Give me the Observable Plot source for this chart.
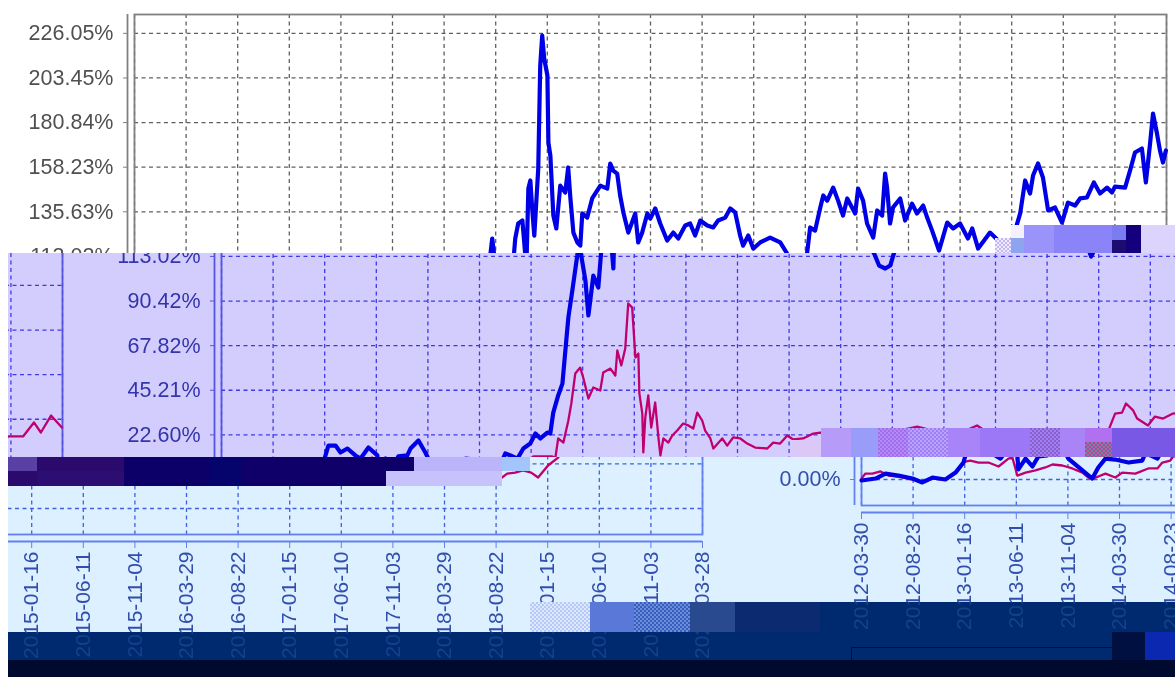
<!DOCTYPE html>
<html>
<head>
<meta charset="utf-8">
<style>
html,body{margin:0;padding:0;background:#fff;overflow:hidden}
#stage{position:relative;width:1175px;height:677px;overflow:hidden;background:#fff;filter:blur(.55px)}
.band{position:absolute;overflow:hidden}
.band svg{position:absolute;display:block;max-width:none}
.tile{position:absolute}
</style>
<script src="https://cdn.jsdelivr.net/npm/d3@7"></script>
<script src="https://cdn.jsdelivr.net/npm/@observablehq/plot@0.6"></script>
</head>
<body>
<div id="stage"></div>
<script>
// Axis content
const yTickValues = [0, 22.60, 45.21, 67.82, 90.42, 113.02, 135.63, 158.23, 180.84, 203.45, 226.05];
const xTickLabels = ["2012-03-30","2012-08-23","2013-01-16","2013-06-11","2013-11-04","2014-03-30","2014-08-23","2015-01-16","2015-06-11","2015-11-04","2016-03-29","2016-08-22","2017-01-15","2017-06-10","2017-11-03","2018-03-29","2018-08-22","2019-01-15","2019-06-10","2019-11-03","2020-03-28"];

// Blue series: weeks since first date, cumulative return %
const blueWeeks = [0,5.7,9.7,14.9,20.6,24.6,28.7,33.9,38,41.2,43.2,46.1,48.1,50.9,54.1,56.2,59.4,63,63.4,66.3,69.1,71.5,75.1,76.4,79.6,82.4,83.6,89.3,93.3,95.7,98.6,102.6,107.9,113.5,114.7,116.8,119.6,122,124.8,126.9,128.9,131.7,132.9,134.1,136.1,137.8,139,140.2,141.8,143.8,144.6,145.4,147.1,148.3,150.3,152.3,153.9,155.1,156.8,158.4,159.2,160,160.8,161.6,162.8,163.2,164,164.8,165.6,166.9,167.3,168.1,169.3,170.5,172.1,174.1,175.3,176.1,177.4,179,180.2,181,183,185,188.3,191.1,192.3,193.5,195.1,196.3,197.6,199.6,202.4,203.6,205.2,207.3,208.5,210.5,212.5,215.3,217.8,219.8,222.6,224.6,226.6,228.7,231.5,233.9,235.9,238.8,240.8,242.8,244.8,246,248.1,250.1,252.9,256.9,261,263.8,265.8,268.3,270.3,271.9,273.1,275.1,277.2,278.4,280,282.4,284.4,286.4,288.1,291.3,292.5,294.5,296.1,298.6,300.2,302.2,303.4,304.2,305.4,306.6,309.5,311.5,314.3,316.3,318.8,320.4,322.4,325.2,328.5,330.9,333.7,336.9,338.6,341,345.8,349.1,351.5,353.1,355.1,358,360,362,363.2,365.2,367.2,369.3,372.1,374.9,377.3,380.2,382.2,385,387.8,390.3,393.1,395.1,396.3,400.4,402.4,404.4,407.2,408.8,410.5,411.7,413.3,414.5,415.7,416.9];
const blueValues = [-0.5,0.5,3,2,0.5,-1.5,1,0,3.5,8.6,17.2,17.2,13.7,15.7,12.2,10.6,16.2,12.2,5.1,10.6,6.6,11.7,12.2,15.7,19.8,13.7,10.6,4.6,0.5,6.1,10.6,10.1,8.6,9.6,13.2,12.2,10.6,15.7,18.2,23.3,20.8,23.8,23.3,33.9,42.6,48.6,65.4,82.1,95.7,113.5,122.1,113.5,100.8,83.1,103.3,97.3,122.1,129.7,131.2,106.9,147.4,151.5,136.3,123.6,148.9,157.6,209.7,224.9,213.3,204.7,170.7,164.1,133.7,127.2,148.9,145.4,158.1,143.9,125.1,120.1,118.5,134.8,132.7,142.4,148.9,147.4,160.1,156.5,155,143.9,135.3,125.1,134.8,120.1,125.1,134.8,132.2,137.3,129.7,121.1,125.1,122.1,128.7,129.7,123.6,131.2,128.7,127.7,131.2,132.7,137.3,135.3,123.6,118.5,123.6,117,120.1,122.6,120.1,114.5,108.4,106.9,108.4,115,127.7,126.1,137.8,143.9,141.3,147.9,141.3,133.7,142.4,134.8,147.4,141.3,129.7,122.6,136.3,133.7,155,147.9,129.7,137.8,142.4,131.2,139.8,134.8,138.8,132.7,126.1,116,130.2,127.2,129.7,122.1,127.2,117,125.1,121.1,113,117,122.6,134.8,151.5,144.9,154,160.1,153,136.3,137.8,130.2,140.3,138.8,142.4,142.9,150.5,144.9,147.9,145.4,148.4,147.9,156.5,165.7,167.7,150.5,170.2,185.4,175.3,166.7,160.6,166.7];

// Magenta series: weeks since first date, cumulative return %
const magentaWeeks = [0,1.6,4.4,7.7,10.9,14.9,20.6,24.6,28.7,33.9,38,42,44,47.3,51.3,55.4,59.4,61,63,66.3,70.3,74.3,77.2,81.2,85.2,89.3,91.7,93.7,98.6,102.6,105.4,110.7,115.9,119.6,121.6,124.8,126,133.7,134.9,136.1,138.2,140.2,141.4,143,145,146.2,148.3,150.3,153.1,154.3,157.2,159.2,160,161.6,163.2,164.4,166,167.3,168.5,168.9,170.1,170.5,171.3,172.5,173.7,175.3,176.6,177.4,178.6,180.6,182.2,184.2,186.6,188.7,190.7,192.3,194.3,195.5,197.6,198.8,202.4,204.4,206.8,209.7,212.5,215.7,220.6,223,225.8,228.7,231.1,235.1,239.2,242,261,277.5,281.2,284.4,293.3,302.6,305.4,313.5,325.6,336.1,338.2,341.4,344.6,347.9,350.7,354.7,358.8,361.2,364,365.6,368.5,370.1,374.5,377.3,380.6,384.6,390.3,395.5,401.2,405.6,408.4,412.5,416.9];
const magentaValues = [0.5,3,3,4.1,2,1.5,0,-1.5,0.5,0,3,9.1,9.6,8.6,8.6,6.6,10.6,11.1,2,3.5,4.6,6.1,7.6,7.1,5.6,3.5,1,0.5,3,1,3.5,3,5.6,5.6,8.6,9.6,11.7,11.7,10.6,20.8,18.7,29.9,38.5,53.7,56.7,51.7,41,46.6,45.1,54.2,56.2,52.7,65.4,57.8,66.4,89.2,87.1,61.8,63.8,43.6,33.4,13.7,31.4,42.6,26.3,39,21.3,12.2,20.8,18.7,22.3,24.8,28.4,27.4,25.8,33.9,29.9,24.8,20.8,15.7,20.8,17.2,21.3,20.8,18.2,16.2,15.7,18.7,18.2,22.3,20.3,20.8,23.3,23.8,20.8,25.8,26.8,25.8,20.8,25.8,27.4,20.8,19.8,15.7,17.7,18.2,19.3,18.2,15.7,21.8,25.8,33.4,33.9,38.5,35,30.9,27.4,31.9,30.9,33.4,34.4,36.5,36.5,43.6,38.5,47.1,41];

const firstDate = new Date(Date.UTC(2012, 2, 30));
const weekToDate = w => new Date(+firstDate + w * 7 * 864e5);
const xTickDates = xTickLabels.map(s => new Date(s + "T00:00:00Z"));
const blueRows = blueWeeks.map((w, i) => ({date: weekToDate(w), value: blueValues[i]}));
const magentaRows = magentaWeeks.map((w, i) => ({date: weekToDate(w), value: magentaValues[i]}));
const fmtDate = d3.utcFormat("%Y-%m-%d");

const Y_BOTTOM = -13.17, Y_TOP = 235.6;
const FONT = "'Liberation Sans', Arial, sans-serif";

// Colour themes of the horizontal bands
const themes = {
  white: {bg:"#ffffff", frame:"#808080", grid:"#606060", text:"#505050", blue:"#0000e6", magenta:"#c8006e"},
  lilac: {bg:"#d3cdfd", frame:"#5454e0", grid:"#4038e8", text:"#3434ac", blue:"#0000e6", magenta:"#c0006e"},
  ice:   {bg:"#dcf0ff", frame:"#6480ee", grid:"#4060e0", text:"#324eac", blue:"#0000e6", magenta:"#c0006e"},
  navy:  {bg:"#002a70", frame:"#0a3a88", grid:"#0a3a88", text:"#134289", blue:"#0000e6", magenta:"#c0006e"}
};

function makeChart(t) {
  return Plot.plot({
    width: 1191, height: 677,
    marginLeft: 134, marginRight: 25, marginTop: 14, marginBottom: 172,
    style: {background: t.bg, fontFamily: FONT, color: t.text, overflow: "visible"},
    x: {type: "utc", domain: [firstDate, xTickDates[xTickDates.length - 1]], label: null},
    y: {domain: [Y_BOTTOM, Y_TOP], label: null},
    marks: [
      Plot.gridX(xTickDates, {stroke: t.grid, strokeOpacity: 1, strokeDasharray: "4,3.5", strokeWidth: 1.3}),
      Plot.gridY(yTickValues, {stroke: t.grid, strokeOpacity: 1, strokeDasharray: "4,3.5", strokeWidth: 1.3}),
      Plot.frame({stroke: t.frame, strokeWidth: 1.8}),
      Plot.ruleX([firstDate], {dx: -7, stroke: t.frame, strokeWidth: 1.8}),
      Plot.ruleY([Y_BOTTOM], {dy: 7, stroke: t.frame, strokeWidth: 1.8}),
      Plot.axisY(yTickValues, {anchor: "left", dx: -7, tickSize: 4, tickPadding: 10, fontSize: 21.5,
        tickFormat: d => d.toFixed(2) + "%", stroke: t.frame, fill: t.text, label: null}),
      Plot.axisX(xTickDates, {anchor: "bottom", dy: 7, tickSize: 7, tickPadding: 3, tickRotate: -90,
        fontSize: 21, tickFormat: fmtDate, stroke: t.frame, fill: t.text, label: null}),
      Plot.line(magentaRows, {x: "date", y: "value", stroke: t.magenta, strokeWidth: 2.3}),
      Plot.line(blueRows, {x: "date", y: "value", stroke: t.blue, strokeWidth: 4.2})
    ]
  });
}

// Shifted horizontal bands: rectangle, horizontal offset, wrapped copy, theme
const bands = [
  {x:0, y:0,   w:1175, h:253, dx:0,   theme:"white"},
  {x:8, y:253, w:1167, h:204, dx:87,  wrap:true, theme:"lilac"},
  {x:8, y:457, w:1167, h:175, dx:727, wrap:true, theme:"ice"},
  {x:820, y:602, w:355, h:30, dx:727, wrap:true, theme:"navy"},
  {x:8, y:632, w:1167, h:28,  dx:727, wrap:true, theme:"navy"}
];
const WRAP = 1191, WRAP_DY = 29;
const stage = document.getElementById("stage");

bands.forEach(b => {
  const div = document.createElement("div");
  div.className = "band";
  Object.assign(div.style, {left:b.x+"px", top:b.y+"px", width:b.w+"px", height:b.h+"px", background: themes[b.theme].bg});
  const place = (dx, dy) => {
    const s = makeChart(themes[b.theme]);
    s.style.left = (dx - b.x) + "px";
    s.style.top = (dy - b.y) + "px";
    div.appendChild(s);
  };
  place(b.dx, 0);
  if (b.wrap) place(b.dx - WRAP, WRAP_DY);
  stage.appendChild(div);
});

// Legend box at the bottom (only its top edge is visible in the picture)
const legendBox = document.createElement("div");
legendBox.className = "tile";
Object.assign(legendBox.style, {left:"851px", top:"647px", width:"262px", height:"14px", borderTop:"1px solid #000f3a", borderLeft:"1px solid #000f3a"});
stage.appendChild(legendBox);

// Corrupted blocks of the source image; a second colour makes a small checker
const glitchTiles = [
  // top strip
  [995,238,16,15,"#c4b6f2","#f0ecff"],[1011,225,13,13,"#f4f0fe"],[1011,238,13,15,"#8fa4ee"],[1024,225,30,28,"#9a94fa"],[1054,225,58,28,"#8a84f8"],
  [1112,225,14,15,"#7a7cf0"],[1112,240,14,13,"#1c0c72"],[1126,225,15,28,"#14007c"],[1141,225,34,28,"#dcd4fc"],
  // strip across the lilac band
  [792,440,29,17,"#dcc8f6"],[821,428,30,29,"#b69cf8"],[851,428,27,29,"#9a9cfa"],[878,428,30,29,"#b888f4","#9c70ec"],[908,428,40,29,"#a07cf6","#b8a4fa"],
  [948,428,32,29,"#a884f8"],[980,428,50,29,"#9c78f6"],[1030,428,30,29,"#a080f6","#8a60c8"],[1060,428,25,29,"#a884f6"],[1085,428,27,14,"#b070f0"],[1085,442,27,15,"#6a8aa8","#c04098"],[1112,428,63,29,"#7a58e6"],
  // dark strip under the lilac band
  [8,457,29,14,"#5a3fa4"],[37,457,87,14,"#2a0a6c"],[124,457,86,14,"#0c0068"],[210,457,31,14,"#04046c"],[241,457,173,14,"#0e0068"],
  [414,457,96,14,"#bcb4fa"],[8,471,29,15,"#2a0a6c"],[37,471,87,15,"#2c0e72"],[124,471,86,15,"#0c0068"],[210,471,31,15,"#04046c"],[241,471,145,15,"#0e0068"],
  [386,471,116,15,"#c8c2fc"],[502,457,28,14,"#a4c4fc"],
  // lower blocks
  [530,602,60,30,"#b6c8f8","#dce8fc"],[590,602,44,30,"#5a78d8"],[634,602,56,30,"#3a5cc0","#6a90d8"],[690,602,45,30,"#2a4a90"],[735,602,85,30,"#0c2a70"],
  [1112,632,33,28,"#001040"],[1145,632,30,28,"#0a28b0"],
  // bottom
  [8,660,1167,17,"#000a2e"]
];
glitchTiles.forEach(([x,y,w,h,c,c2]) => {
  const d = document.createElement("div");
  d.className = "tile";
  Object.assign(d.style, {left:x+"px", top:y+"px", width:w+"px", height:h+"px", background:c});
  if (c2) Object.assign(d.style, {background:`repeating-conic-gradient(${c} 0 25%, ${c2} 0 50%)`, backgroundSize:"4px 4px"});
  stage.appendChild(d);
});
</script>
</body>
</html>
